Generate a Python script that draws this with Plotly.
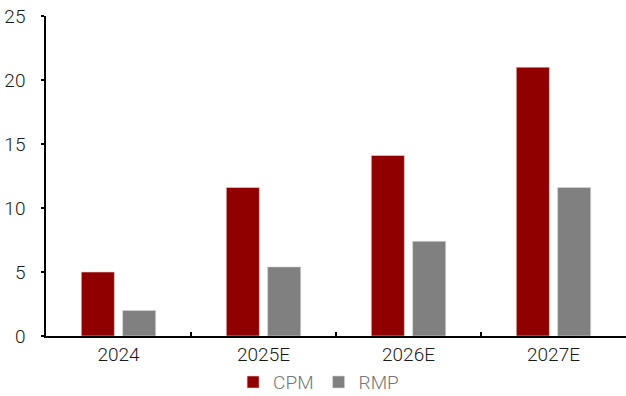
import plotly.graph_objects as go

categories = ["2024", "2025E", "2026E", "2027E"]
cpm = [5.0, 11.6, 14.1, 21.0]
rmp = [2.0, 5.4, 7.4, 11.6]
y_ticks = [0, 5, 10, 15, 20, 25]

fig = go.Figure()
fig.add_trace(go.Bar(name="CPM", x=categories, y=cpm, marker=dict(color="#900000", line=dict(color="#e8d0d0", width=0.6))))
fig.add_trace(go.Bar(name="RMP", x=categories, y=rmp, marker=dict(color="#808080", line=dict(color="#d8d8d8", width=0.6))))

fig.update_layout(
    width=626, height=396,
    margin=dict(l=46, r=0, t=16, b=60),
    paper_bgcolor="white", plot_bgcolor="white",
    barmode="group", bargap=0.43, bargroupgap=0.2,
    font=dict(family="Roboto", size=19, color="#1a1a1a", weight=300),
    showlegend=True,
    legend=dict(orientation="h", x=0.47, xanchor="center", yref="container", y=0.035, yanchor="middle",
                font=dict(size=19, color="#767676", weight=300), itemwidth=30, traceorder="normal",
                tracegroupgap=0, itemclick=False),
    xaxis=dict(showline=True, linecolor="black", linewidth=1.5, ticks="inside",
               tickson="boundaries", ticklen=4, tickcolor="black", tickwidth=1.5,
               showgrid=False, automargin=False),
    yaxis=dict(range=[0, 25], tickvals=y_ticks, showline=True, linecolor="black", linewidth=1.5,
               ticks="outside", ticklen=3, tickcolor="black", tickwidth=1.5, showgrid=False,
               zeroline=False, ticklabelstandoff=12, automargin=False),
)
fig.write_html("out.html")
